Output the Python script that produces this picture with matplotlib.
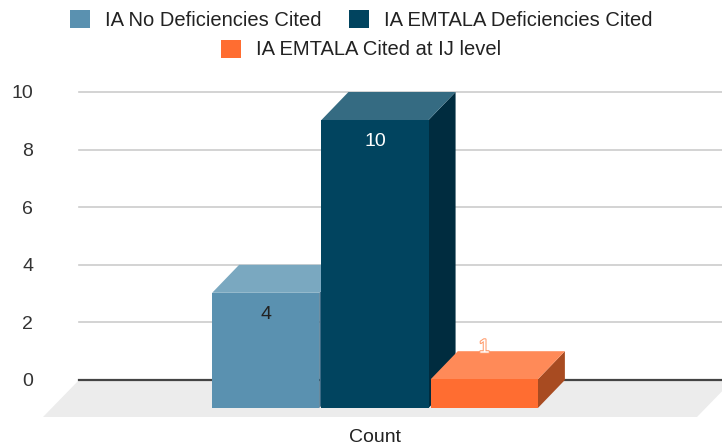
import matplotlib
matplotlib.use('Agg')
from matplotlib import pyplot as plt
from matplotlib.patches import Polygon, Patch
import matplotlib.patheffects as pe

# Data
series = ['IA No Deficiencies Cited', 'IA EMTALA Deficiencies Cited', 'IA EMTALA Cited at IJ level']
values = [4, 10, 1]
category = 'Count'
yticks = [0, 2, 4, 6, 8, 10]

# Colours: (front, top, side)
front_cols = ['#5a91b0', '#01445f', '#ff6d31']
top_cols = ['#7aa8c0', '#356b82', '#ff8a58']
side_cols = ['#3c6a85', '#002c3f', '#a84b21']
label_cols = ['#222222', '#ffffff', '#ffffff']

plt.rcParams['font.family'] = 'Liberation Sans'

fig = plt.figure(figsize=(7.22, 4.46), dpi=100)
W, H = 722, 446
# back plane: x 79..733 px, value 0 at y=380, 10 at y=92
ax = fig.add_axes([79 / W, (H - 380) / H, (733 - 79) / W, 288 / H])
ax.set_xlim(-1.955, 4.028)
ax.set_ylim(0, 10)
for s in ax.spines.values():
    s.set_visible(False)
ax.set_xticks([])
ax.set_yticks(yticks)
ax.set_yticklabels([str(t) for t in yticks], fontsize=14, color='#333333')
ax.tick_params(axis='y', length=0, pad=33)
for t in yticks[1:]:
    ax.axhline(t, color='#cccccc', lw=1.2, zorder=0, clip_on=False)

fig.canvas.draw()
p0 = ax.transData.transform((0, 0))
p1 = ax.transData.transform((1, 1))
px_x = p1[0] - p0[0]
px_y = p1[1] - p0[1]

# Floor
x0, x1 = ax.get_xlim()
fdx, fdy = -36 / px_x, -37 / px_y
floor = Polygon([(x0, 0), (x1, 0), (x1 + fdx, fdy), (x0 + fdx, fdy)],
                closed=True, facecolor='#ececec', edgecolor='none', zorder=1, clip_on=False)
ax.add_patch(floor)
ax.plot([x0, x1], [0, 0], color='#444444', lw=1.6, zorder=2, clip_on=False)

# 3D bars
dx, dy = -27 / px_x, -28 / px_y
bw = 0.49
for i, v in enumerate(values):
    l, r = i - bw, i + bw
    side = Polygon([(r, 0), (r, v), (r + dx, v + dy), (r + dx, dy)], closed=True,
                   facecolor=side_cols[i], edgecolor='none', zorder=3 + i, clip_on=False)
    top = Polygon([(l, v), (r, v), (r + dx, v + dy), (l + dx, v + dy)], closed=True,
                  facecolor=top_cols[i], edgecolor='none', zorder=3 + i, clip_on=False)
    front = Polygon([(l + dx, dy), (r + dx, dy), (r + dx, v + dy), (l + dx, v + dy)], closed=True,
                    facecolor=front_cols[i], edgecolor='none', zorder=3 + i, clip_on=False)
    for p in (side, top, front):
        ax.add_patch(p)
    front_h = v * px_y
    if front_h > 40:
        ax.annotate(str(v), xy=(i + dx, v + dy), xytext=(0, -22 * 0.72), textcoords='offset points',
                    ha='center', va='center', fontsize=14, color=label_cols[i], zorder=10)
    else:
        ax.annotate(str(v), xy=(i + dx, v + dy), xytext=(0, 31 * 0.72), textcoords='offset points',
                    ha='center', va='center', fontsize=14, color=label_cols[i], zorder=10,
                    path_effects=[pe.withStroke(linewidth=1.5, foreground='#ff9a6a')])

# category label
ax.annotate(category, xy=(1 + dx, 0), xytext=(0, -57 * 0.72), textcoords='offset points',
            ha='center', va='center', fontsize=14, color='#222222', annotation_clip=False)

# Legend in two rows
handles = [Patch(facecolor=c, edgecolor='none') for c in front_cols]
leg_kw = dict(loc='center', frameon=False, fontsize=14.5, handlelength=1.0, handleheight=1.0,
              handletextpad=0.75, columnspacing=1.35, labelcolor='#222222', borderpad=0)
fig.legend(handles[:2], series[:2], bbox_to_anchor=(0.5, 1 - 20 / H), ncol=2, **leg_kw)
fig.legend(handles[2:], series[2:], bbox_to_anchor=(0.5, 1 - 49.5 / H), ncol=1, **leg_kw)

fig.savefig('out.png', dpi=100)
